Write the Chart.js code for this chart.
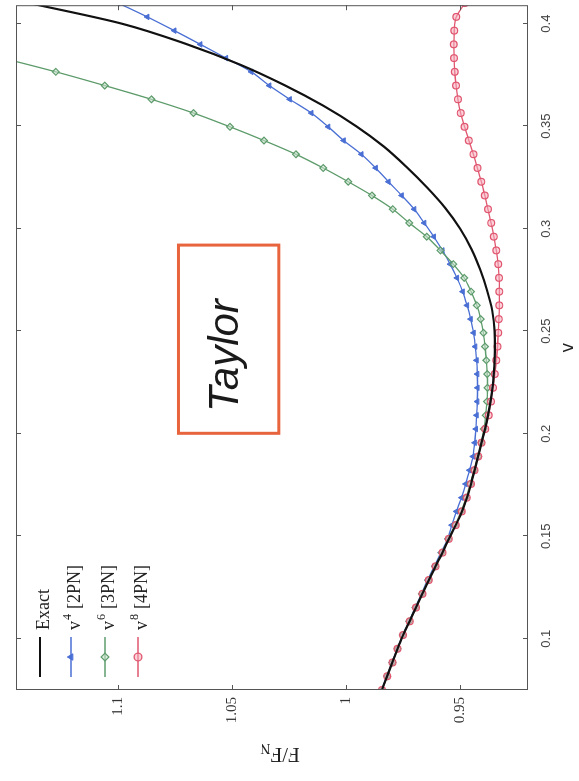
<!DOCTYPE html>
<html>
<head>
<meta charset="utf-8">
<title>F/F_N versus v</title>
<script src="https://cdn.jsdelivr.net/npm/chart.js@4/dist/chart.umd.min.js"></script>
<style>
  html, body { margin: 0; padding: 0; background: #fff; overflow: hidden; width: 579px; height: 781px; }
  /* the figure is laid out landscape and turned a quarter turn counter-clockwise */
  #wrap { position: absolute; left: 0; top: 0; width: 781px; height: 579px;
          transform-origin: 0 0; transform: translate(0, 781px) rotate(-90deg); }
  canvas { display: block; }
</style>
</head>
<body>
<div id="wrap"><canvas id="c" width="781" height="579"></canvas></div>
<script>
// sample velocities for the PN approximants (marker positions)
const vGrid = [0.075, 0.0817, 0.0884, 0.0951, 0.1018, 0.1085, 0.1152, 0.1219, 0.1286, 0.1353,
               0.142, 0.1487, 0.1554, 0.1621, 0.1688, 0.1755, 0.1822, 0.1889, 0.1956, 0.2023,
               0.209, 0.2157, 0.2224, 0.2291, 0.2358, 0.2425, 0.2492, 0.2559, 0.2626, 0.2693,
               0.276, 0.2827, 0.2894, 0.2961, 0.3028, 0.3095, 0.3162, 0.3229, 0.3296, 0.3363,
               0.343, 0.3497, 0.3564, 0.3631, 0.3698, 0.3765, 0.3832, 0.3899, 0.3966, 0.4033, 0.41];

// exact flux
const exactV = [0.075, 0.08, 0.09, 0.10, 0.11, 0.12, 0.13, 0.14, 0.15, 0.16, 0.17, 0.18,
                0.19, 0.20, 0.21, 0.22, 0.23, 0.24, 0.25, 0.26, 0.27, 0.28, 0.29, 0.30,
                0.31, 0.32, 0.33, 0.34, 0.35, 0.36, 0.37, 0.38, 0.39, 0.40, 0.41];
const exactF = [0.9842, 0.9825, 0.9791, 0.9756, 0.9714, 0.9672, 0.9630, 0.9585, 0.9542, 0.9498,
                0.9465, 0.9440, 0.9417, 0.9394, 0.9374, 0.9359, 0.9350, 0.9346, 0.9347, 0.9357,
                0.9380, 0.9410, 0.9448, 0.9498, 0.9563, 0.9643, 0.9733, 0.9833, 0.9955, 1.0100,
                1.0270, 1.0465, 1.0700, 1.0985, 1.1390];

// Taylor v^4 [2PN]
const pn2F = [0.9843, 0.9821, 0.9798, 0.9775, 0.9751, 0.9723, 0.9696, 0.9668, 0.9641, 0.9612,
              0.9583, 0.9553, 0.9535, 0.9515, 0.9492, 0.9474, 0.9457, 0.9442, 0.9434, 0.9429,
              0.9426, 0.9423, 0.9422, 0.9423, 0.9426, 0.9432, 0.9439, 0.9452, 0.9468, 0.9487,
              0.9512, 0.9542, 0.9576, 0.9614, 0.9656, 0.9700, 0.9755, 0.9813, 0.9869, 0.9932,
              1.0010, 1.0078, 1.0152, 1.0247, 1.0337, 1.0416, 1.0527, 1.0640, 1.0754, 1.0873, 1.1000];

// Taylor v^6 [3PN]
const pn3F = [0.9842, 0.9819, 0.9796, 0.9773, 0.9750, 0.9722, 0.9694, 0.9666, 0.9638, 0.9608,
              0.9579, 0.9550, 0.9521, 0.9494, 0.9472, 0.9454, 0.9437, 0.9419, 0.9405, 0.9394,
              0.9386, 0.9380, 0.9378, 0.9379, 0.9383, 0.9389, 0.9396, 0.9408, 0.9425, 0.9450,
              0.9480, 0.9528, 0.9585, 0.9645, 0.9722, 0.9794, 0.9886, 0.9990, 1.0100, 1.0220,
              1.0360, 1.0510, 1.0670, 1.0855, 1.1060, 1.1275, 1.1510, 1.1760, null, null, null];

// Taylor v^8 [4PN]
const pn4F = [0.9842, 0.9819, 0.9796, 0.9773, 0.9749, 0.9720, 0.9692, 0.9664, 0.9636, 0.9606,
              0.9576, 0.9548, 0.9518, 0.9491, 0.9469, 0.9451, 0.9435, 0.9419, 0.9404, 0.9388,
              0.9373, 0.9363, 0.9354, 0.9346, 0.9339, 0.9334, 0.9331, 0.9328, 0.9326, 0.9326,
              0.9327, 0.9331, 0.9339, 0.9350, 0.9362, 0.9376, 0.9390, 0.9405, 0.9422, 0.9440,
              0.9460, 0.9479, 0.9496, 0.9508, 0.9516, 0.9522, 0.9525, 0.9526, 0.9524, 0.9515, 0.9478];

const vTicks = [0.1, 0.15, 0.2, 0.25, 0.3, 0.35, 0.4];
const vTickLabels = ['0.1', '0.15', '0.2', '0.25', '0.3', '0.35', '0.4'];
const fTicks = [0.95, 1, 1.05, 1.1];
const fTickLabels = ['0.95', '1', '1.05', '1.1'];

const legendBase = ['Exact', 'v', 'v', 'v'];
const legendPower = ['', '4', '6', '8'];
const legendTail = ['', '[2PN]', '[3PN]', '[4PN]'];

const COL_EXACT = '#111111';
const COL_2PN = '#4a6fd4';
const COL_3PN = '#5e9c6c';
const COL_4PN = '#e0566f';

const pts = (xs, ys) => xs.map((x, i) => ({ x: x, y: ys[i] }));

// inward tick marks and the closed frame
const frameTicks = {
  id: 'frameTicks',
  afterDatasetsDraw(chart) {
    const { ctx, chartArea: a, scales: { x, y } } = chart;
    ctx.save();
    ctx.strokeStyle = '#555';
    ctx.lineWidth = 1;
    ctx.strokeRect(a.left + 0.5, a.top + 0.5, a.right - a.left - 1, a.bottom - a.top - 1);
    ctx.beginPath();
    vTicks.forEach(v => {
      const px = Math.round(x.getPixelForValue(v)) + 0.5;
      ctx.moveTo(px, a.bottom); ctx.lineTo(px, a.bottom - 5);
      ctx.moveTo(px, a.top); ctx.lineTo(px, a.top + 5);
    });
    fTicks.forEach(f => {
      const py = Math.round(y.getPixelForValue(f)) + 0.5;
      ctx.moveTo(a.left, py); ctx.lineTo(a.left + 5, py);
      ctx.moveTo(a.right, py); ctx.lineTo(a.right - 5, py);
    });
    ctx.stroke();
    ctx.restore();
  }
};

// framed "Taylor" label, anchored in data units
const taylorBox = {
  id: 'taylorBox',
  afterDatasetsDraw(chart) {
    const { ctx, scales: { x, y } } = chart;
    const l = x.getPixelForValue(0.2002), r = x.getPixelForValue(0.292);
    const t = y.getPixelForValue(1.0736), b = y.getPixelForValue(1.0295);
    ctx.save();
    ctx.strokeStyle = '#e8643c';
    ctx.lineWidth = 3;
    ctx.strokeRect(l, t, r - l, b - t);
    ctx.fillStyle = '#1a1a1a';
    ctx.font = 'italic 42px "Liberation Sans", Arial, sans-serif';
    ctx.textAlign = 'center';
    ctx.textBaseline = 'alphabetic';
    ctx.fillText('Taylor', x.getPixelForValue(0.2381), y.getPixelForValue(1.0476));
    ctx.restore();
  }
};

// legend in the upper-left corner of the plot
const cornerLegend = {
  id: 'cornerLegend',
  afterDatasetsDraw(chart) {
    const { ctx, chartArea: a } = chart;
    const rows = [24, 55, 89, 122];
    const styles = chart.data.datasets;
    ctx.save();
    rows.forEach((dy, i) => {
      const ds = styles[i];
      const cy = a.top + dy;
      const x0 = a.left + 13, x1 = a.left + 53;
      ctx.strokeStyle = ds.borderColor;
      ctx.lineWidth = ds.borderWidth;
      ctx.beginPath(); ctx.moveTo(x0, cy); ctx.lineTo(x1, cy); ctx.stroke();
      if (ds.pointRadius > 0) {
        ctx.fillStyle = ds.pointBackgroundColor;
        ctx.strokeStyle = ds.pointBorderColor;
        ctx.lineWidth = ds.pointBorderWidth;
        Chart.helpers.drawPoint(ctx, { pointStyle: ds.pointStyle, radius: ds.pointRadius + 0.5, rotation: 0, borderWidth: ds.pointBorderWidth }, (x0 + x1) / 2, cy);
      }
      ctx.fillStyle = '#222';
      ctx.textBaseline = 'alphabetic';
      ctx.textAlign = 'left';
      const base = cy + 9;
      let tx = x1 + 7;
      ctx.font = '18px "Liberation Serif", "Times New Roman", serif';
      ctx.fillText(legendBase[i], tx, base);
      tx += ctx.measureText(legendBase[i]).width;
      if (legendPower[i]) {
        ctx.font = '12px "Liberation Serif", "Times New Roman", serif';
        ctx.fillText(legendPower[i], tx + 1, base - 9);
        tx += ctx.measureText(legendPower[i]).width + 6;
        ctx.font = '18px "Liberation Serif", "Times New Roman", serif';
        ctx.fillText(legendTail[i], tx, base);
      }
    });
    ctx.restore();
  }
};

// vertical axis title F/F_N with a subscript
const fTitle = {
  id: 'fTitle',
  afterDraw(chart) {
    const { ctx } = chart;
    ctx.save();
    ctx.translate(26, 280);
    ctx.rotate(-Math.PI / 2);
    ctx.fillStyle = '#222';
    ctx.textBaseline = 'alphabetic';
    ctx.font = '21px "Liberation Serif", "Times New Roman", serif';
    const main = 'F/F';
    const wMain = ctx.measureText(main).width;
    ctx.font = '14px "Liberation Serif", "Times New Roman", serif';
    const wSub = ctx.measureText('N').width;
    const start = -(wMain + wSub) / 2;
    ctx.font = '21px "Liberation Serif", "Times New Roman", serif';
    ctx.textAlign = 'left';
    ctx.fillText(main, start, 7);
    ctx.font = '14px "Liberation Serif", "Times New Roman", serif';
    ctx.fillText('N', start + wMain, 11);
    ctx.restore();
  }
};

const chart = new Chart(document.getElementById('c'), {
  type: 'line',
  data: {
    datasets: [
      { label: 'Exact', data: pts(exactV, exactF), borderColor: COL_EXACT, borderWidth: 2.2,
        pointRadius: 0, cubicInterpolationMode: 'monotone', order: 0 },
      { label: 'v^4 [2PN]', data: pts(vGrid, pn2F), borderColor: COL_2PN, borderWidth: 1.3,
        pointStyle: 'triangle', pointRadius: 3.2, pointBackgroundColor: COL_2PN,
        pointBorderColor: COL_2PN, pointBorderWidth: 1, tension: 0.3, order: 3 },
      { label: 'v^6 [3PN]', data: pts(vGrid, pn3F), borderColor: COL_3PN, borderWidth: 1.3,
        pointStyle: 'rectRot', pointRadius: 3.4, pointBackgroundColor: 'rgba(200,225,205,0.6)',
        pointBorderColor: COL_3PN, pointBorderWidth: 1.2, tension: 0.3, order: 2 },
      { label: 'v^8 [4PN]', data: pts(vGrid, pn4F), borderColor: COL_4PN, borderWidth: 1.3,
        pointStyle: 'circle', pointRadius: 3.4, pointBackgroundColor: 'rgba(245,170,185,0.55)',
        pointBorderColor: COL_4PN, pointBorderWidth: 1.2, tension: 0.3, order: 1 }
    ]
  },
  options: {
    responsive: false,
    animation: false,
    devicePixelRatio: 1,
    layout: { padding: { top: 8, right: 2, left: 0, bottom: 0 } },
    plugins: { legend: { display: false }, tooltip: { enabled: false }, title: { display: false } },
    scales: {
      x: {
        type: 'linear', min: 0.075, max: 0.409,
        grid: { display: false, drawTicks: false },
        border: { display: false },
        afterBuildTicks: s => { s.ticks = vTicks.map(v => ({ value: v })); },
        afterFit: s => { s.height = 51; },
        ticks: {
          padding: 11, maxRotation: 0, autoSkip: false, color: '#444',
          font: { family: '"Liberation Sans", Arial, sans-serif', size: 13 },
          callback: (val, i) => vTickLabels[i]
        },
        title: { display: true, text: 'v', color: '#222', padding: { top: 0, bottom: 0 },
                 font: { family: '"DejaVu Sans", sans-serif', size: 17 } }
      },
      y: {
        type: 'linear', min: 0.92, max: 1.145,
        grid: { display: false, drawTicks: false },
        border: { display: false },
        afterBuildTicks: s => { s.ticks = fTicks.map(v => ({ value: v })); },
        afterFit: s => { s.width = 91; },
        ticks: {
          padding: 7, autoSkip: false, color: '#333',
          font: { family: '"Liberation Serif", "Times New Roman", serif', size: 15 },
          callback: (val, i) => fTickLabels[i]
        }
      }
    }
  },
  plugins: [frameTicks, taylorBox, cornerLegend, fTitle]
});
</script>
</body>
</html>
